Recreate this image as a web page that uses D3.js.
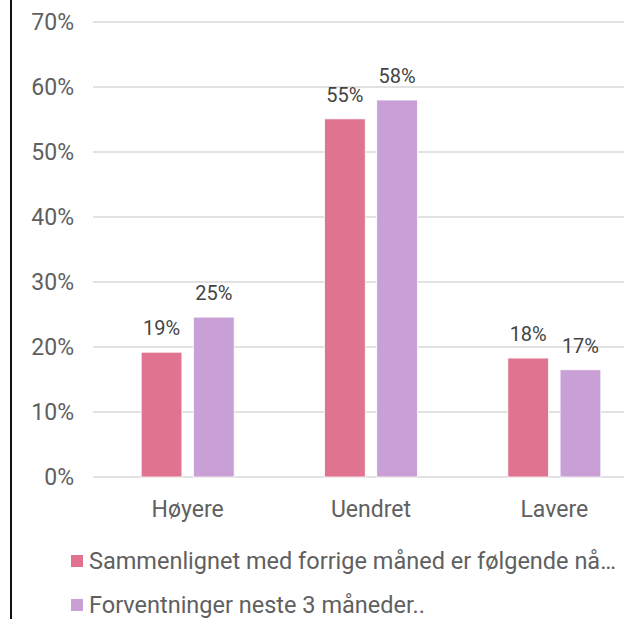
<!DOCTYPE html>
<html>
<head>
<meta charset="utf-8">
<script src="https://cdn.jsdelivr.net/npm/d3@7"></script>
<style>
  body { margin: 0; background: #fff; overflow: hidden; }
  svg { display: block; font-family: Roboto, "Noto Sans", sans-serif; }
</style>
</head>
<body>
<svg id="chart"></svg>
<script>
(function() {
    // Data
    var categories = ["Høyere", "Uendret", "Lavere"];
    var seriesNames = ["Sammenlignet med forrige måned er følgende nå…", "Forventninger neste 3 måneder.."];
    var seriesNow = [19.2, 55.1, 18.3];
    var seriesNext = [24.6, 58.0, 16.5];
    var labelsNow = ["19%", "55%", "18%"];
    var labelsNext = ["25%", "58%", "17%"];
    var yTicks = [0, 10, 20, 30, 40, 50, 60, 70];
    var colors = ["#e0738f", "#c9a0d6"];

    var W = 624, H = 619;
    var svg = d3.select("#chart").attr("width", W).attr("height", H);

    // left border line
    svg.append("line")
        .attr("x1", 11).attr("x2", 11)
        .attr("y1", 0).attr("y2", H)
        .attr("stroke", "#111").attr("stroke-width", 2);

    // Y scale
    var y = d3.scaleLinear().domain([0, 70]).range([477, 22]);

    // X scale (plot runs off the right edge like the original)
    var x0 = d3.scaleBand().domain(categories).range([96, 646]);
    var x1 = d3.scaleBand().domain([0, 1]).range([0, 93]).paddingInner(0.22);

    // gridlines
    svg.append("g").selectAll("line")
        .data(yTicks)
        .enter().append("line")
        .attr("x1", 93).attr("x2", W)
        .attr("y1", (d) => y(d)).attr("y2", (d) => y(d))
        .attr("stroke", "#d9d9d9").attr("stroke-width", 1.5);

    // y tick labels
    svg.append("g").selectAll("text")
        .data(yTicks)
        .enter().append("text")
        .attr("x", 74)
        .attr("y", (d) => y(d) + 8)
        .attr("text-anchor", "end")
        .attr("fill", "#606060")
        .style("font-size", "23px")
        .text((d) => d + "%");

    // bars
    var series = [seriesNow, seriesNext];
    var labels = [labelsNow, labelsNext];
    series.forEach(function(vals, s) {
        var g = svg.append("g");
        g.selectAll("rect")
            .data(vals)
            .enter().append("rect")
            .attr("x", (d, i) => x0(categories[i]) + x0.bandwidth() / 2 - 46.5 + x1(s))
            .attr("y", (d) => y(d))
            .attr("width", x1.bandwidth())
            .attr("height", (d) => y(0) - y(d))
            .attr("fill", colors[s])
            .attr("stroke", "#fff")
            .attr("stroke-width", 0.8);
        g.selectAll("text")
            .data(vals)
            .enter().append("text")
            .attr("x", (d, i) => x0(categories[i]) + x0.bandwidth() / 2 - 46.5 + x1(s) + x1.bandwidth() / 2)
            .attr("y", (d) => y(d) - 17)
            .attr("text-anchor", "middle")
            .attr("fill", "#444")
            .style("font-size", "20px")
            .text((d, i) => labels[s][i]);
    });

    // category labels
    svg.append("g").selectAll("text")
        .data(categories)
        .enter().append("text")
        .attr("x", (d) => x0(d) + x0.bandwidth() / 2)
        .attr("y", 517)
        .attr("text-anchor", "middle")
        .attr("fill", "#606060")
        .style("font-size", "23px")
        .text((d) => d);

    // legend
    var legend = svg.append("g").selectAll("g")
        .data(seriesNames)
        .enter().append("g")
        .attr("transform", (d, i) => "translate(71," + (569 + i * 44) + ")");
    legend.append("rect")
        .attr("y", -14)
        .attr("width", 12).attr("height", 12)
        .attr("fill", (d, i) => colors[i]);
    legend.append("text")
        .attr("x", 18)
        .attr("y", 0)
        .attr("fill", "#606060")
        .style("font-size", "23.5px")
        .text((d) => d);
})();
</script>
</body>
</html>
